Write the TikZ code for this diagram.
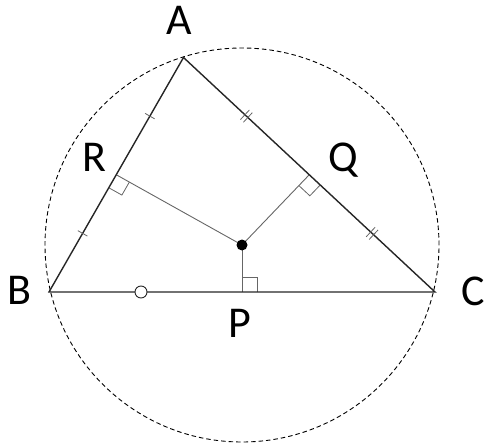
\documentclass[tikz,border=0pt]{standalone}
\usepackage{fontspec}
\setmainfont{Carlito}
\usetikzlibrary{calc}
\begin{document}
\begin{tikzpicture}[x=1pt,y=-1pt,
  side/.style={line width=1.4pt, black!85, line join=miter},
  perp/.style={line width=0.9pt, black!60},
  tickmk/.style={line width=0.8pt, black!60},
  lbl/.style={anchor=base, inner sep=0pt, font=\fontsize{44}{44}\selectfont}]
\useasboundingbox (0,0) rectangle (486,443);
\coordinate (A) at (183.5,57.5);
\coordinate (B) at (49,292);
\coordinate (C) at (435,292);
\coordinate (O) at (242,245);
\coordinate (P) at ($(B)!0.5!(C)$);
\coordinate (Q) at ($(A)!0.5!(C)$);
\coordinate (R) at ($(A)!0.5!(B)$);
% circumcircle
\draw[line width=0.9pt, dash pattern=on 4.5pt off 3pt] (O) circle[radius=197pt];
% perpendicular bisectors
\draw[perp] (O) -- (P);
\draw[perp] (O) -- (Q);
\draw[perp] (O) -- (R);
% right angle marks
\coordinate (p1) at ($(P)!15pt!(C)$);
\coordinate (p2) at ($(P)!15pt!(O)$);
\draw[tickmk] (p1) -- ($(p1)+(p2)-(P)$) -- (p2);
\coordinate (q1) at ($(Q)!15pt!(C)$);
\coordinate (q2) at ($(Q)!15pt!(O)$);
\draw[tickmk] (q1) -- ($(q1)+(q2)-(Q)$) -- (q2);
\coordinate (r1) at ($(R)!15pt!(B)$);
\coordinate (r2) at ($(R)!15pt!(O)$);
\draw[tickmk] (r1) -- ($(r1)+(r2)-(R)$) -- (r2);
% triangle
\draw[side] (A) -- (B) -- (C) -- cycle;
% single ticks on AB
\foreach \t/\n in {0.25/ta, 0.75/tb}{
  \coordinate (\n) at ($(A)!\t!(B)$);
  \draw[tickmk] ($(\n)!5.5pt!90:(B)$) -- ($(\n)!5.5pt!-90:(B)$);
}
% double ticks on AC
\foreach \t/\n in {0.25/tc, 0.75/td}{
  \coordinate (\n) at ($(A)!\t!(C)$);
  \coordinate (\n1) at ($(\n)!2pt!(C)$);
  \coordinate (\n2) at ($(\n)!2pt!(A)$);
  \draw[tickmk] ($(\n1)!6.5pt!90:(C)$) -- ($(\n1)!6.5pt!-90:(C)$);
  \draw[tickmk] ($(\n2)!6.5pt!90:(C)$) -- ($(\n2)!6.5pt!-90:(C)$);
}
% circle mark on BC
\coordinate (cm) at (141,292);
\draw[line width=0.9pt, black!85, fill=white] (cm) circle[radius=6pt];
% circumcentre dot
\fill (O) circle[radius=5.5pt];
% labels
\node[lbl] (lA) at (179,35) {A};
\node[lbl] (lB) at (19,304) {B};
\node[lbl] (lC) at (473,305) {C};
\node[lbl] (lP) at (240,337) {P};
\node[lbl] (lQ) at (343,172) {Q};
\node[lbl] (lR) at (94,172) {R};
\end{tikzpicture}
\end{document}
